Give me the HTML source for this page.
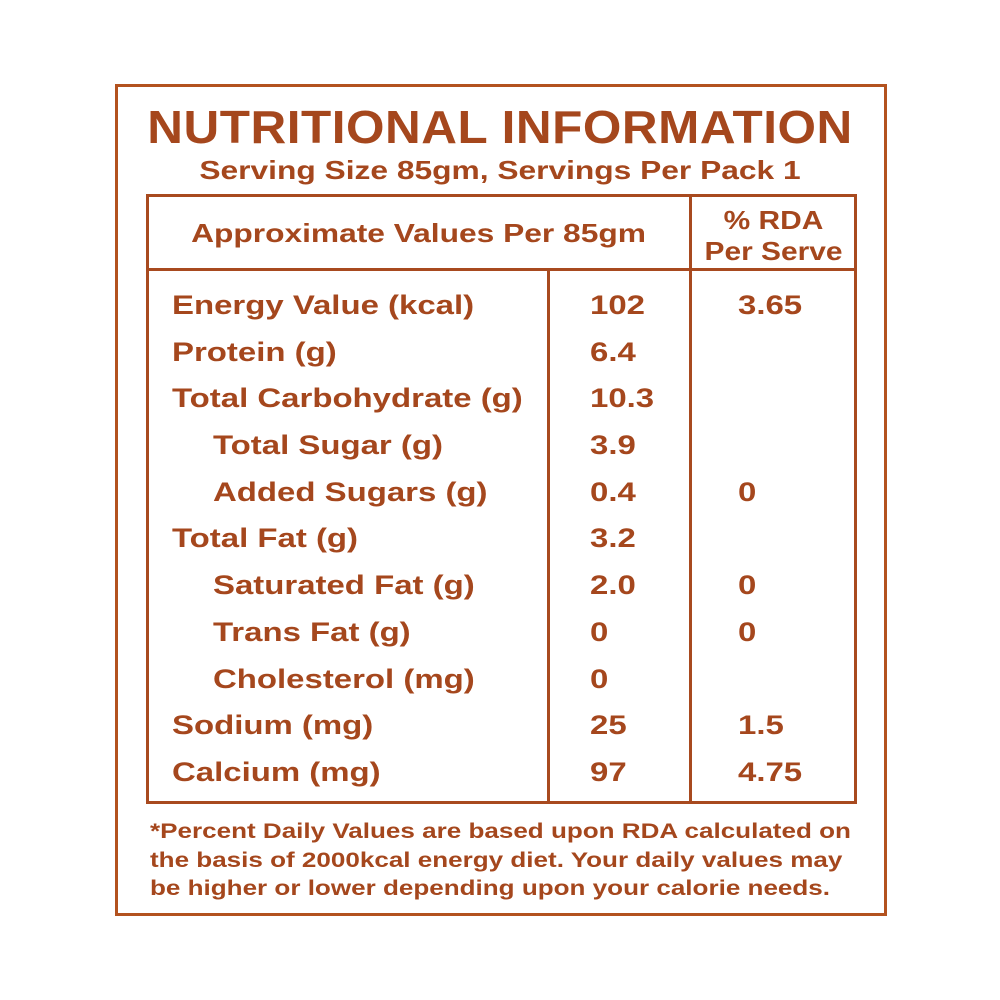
<!DOCTYPE html>
<html><head><style>
body{margin:0;background:#fff;width:1000px;height:1000px;position:relative;font-family:"Liberation Sans",sans-serif;color:#a5471d;font-weight:bold;}
.a{position:absolute;white-space:nowrap;}
.b{position:absolute;border:3px solid #b3521f;box-sizing:border-box;}
.l{position:absolute;background:#a84a1f;}
.r{position:absolute;font-size:27px;line-height:30px;white-space:nowrap;transform:scaleX(1.22);transform-origin:0 0;}
.c{position:absolute;white-space:nowrap;transform:scaleX(1.22);transform-origin:50% 0;}
</style></head><body>
<div class="b" style="left:115px;top:84px;width:772px;height:832px;"></div>
<div class="a" style="left:0;width:1000px;text-align:center;top:100px;font-size:46px;letter-spacing:0.5px;transform:scaleX(1.075);">NUTRITIONAL INFORMATION</div>
<div class="c" style="left:0;width:1000px;text-align:center;top:155px;font-size:26px;">Serving Size 85gm, Servings Per Pack 1</div>
<div class="b" style="left:146px;top:194px;width:711px;height:610px;border-color:#a84a1f;"></div>
<div class="l" style="left:146px;top:268px;width:711px;height:3px;"></div>
<div class="l" style="left:689px;top:194px;width:3px;height:610px;"></div>
<div class="l" style="left:547px;top:268px;width:3px;height:536px;"></div>
<div class="c" style="left:146px;width:545px;text-align:center;top:218px;font-size:26px;">Approximate Values Per 85gm</div>
<div class="c" style="left:690px;width:167px;text-align:center;top:205px;font-size:26px;line-height:31px;transform:scaleX(1.15);">% RDA<br>Per Serve</div>
<div class="r" style="left:172px;top:290px">Energy Value (kcal)</div><div class="r" style="left:590px;top:290px">102</div><div class="r" style="left:738px;top:290px">3.65</div>
<div class="r" style="left:172px;top:337px">Protein (g)</div><div class="r" style="left:590px;top:337px">6.4</div>
<div class="r" style="left:172px;top:383px">Total Carbohydrate (g)</div><div class="r" style="left:590px;top:383px">10.3</div>
<div class="r" style="left:213px;top:430px">Total Sugar (g)</div><div class="r" style="left:590px;top:430px">3.9</div>
<div class="r" style="left:213px;top:477px">Added Sugars (g)</div><div class="r" style="left:590px;top:477px">0.4</div><div class="r" style="left:738px;top:477px">0</div>
<div class="r" style="left:172px;top:523px">Total Fat (g)</div><div class="r" style="left:590px;top:523px">3.2</div>
<div class="r" style="left:213px;top:570px">Saturated Fat (g)</div><div class="r" style="left:590px;top:570px">2.0</div><div class="r" style="left:738px;top:570px">0</div>
<div class="r" style="left:213px;top:617px">Trans Fat (g)</div><div class="r" style="left:590px;top:617px">0</div><div class="r" style="left:738px;top:617px">0</div>
<div class="r" style="left:213px;top:664px">Cholesterol (mg)</div><div class="r" style="left:590px;top:664px">0</div>
<div class="r" style="left:172px;top:710px">Sodium (mg)</div><div class="r" style="left:590px;top:710px">25</div><div class="r" style="left:738px;top:710px">1.5</div>
<div class="r" style="left:172px;top:757px">Calcium (mg)</div><div class="r" style="left:590px;top:757px">97</div><div class="r" style="left:738px;top:757px">4.75</div>
<div class="r" style="left:150px;top:818px;font-size:21px;line-height:28.5px;transform:scaleX(1.24);">*Percent Daily Values are based upon RDA calculated on<br>the basis of 2000kcal energy diet. Your daily values may<br>be higher or lower depending upon your calorie needs.</div>
</body></html>
